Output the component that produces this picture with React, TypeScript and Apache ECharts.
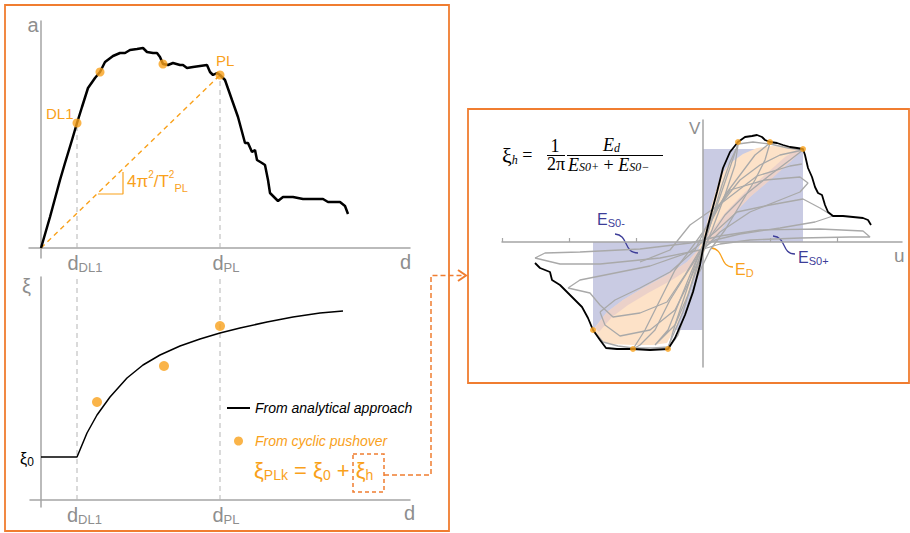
import React, { useEffect, useRef } from "react";
import * as echarts from "echarts";

// ---------- Top-left: pushover curve (d, a) ----------
const pushoverCurve: [number, number][] = [
  [0, 0], [9, 31], [19, 68], [24, 85], [31, 108], [36, 125], [41, 141], [47, 160], [54, 170], [59, 176],
  [64, 186], [72, 192], [79, 195], [84, 195], [89, 198], [96, 199], [102, 200], [106, 196], [112, 195],
  [116, 195], [119, 191], [122, 184], [127, 183], [132, 185], [139, 183], [142, 183], [146, 180], [152, 181],
  [159, 182], [166, 183], [169, 176], [172, 173], [176, 175], [179, 173], [184, 168], [191, 148], [197, 131],
  [204, 105], [207, 105], [211, 96], [214, 98], [216, 88], [221, 85], [224, 83], [227, 68], [229, 55],
  [232, 52], [237, 47], [242, 51], [252, 51], [262, 49], [282, 49], [287, 46], [299, 46], [304, 42], [307, 34],
];
// DL1, two intermediate, PL
const pushoverPoints: [number, number][] = [[36, 125], [59, 176], [122, 184], [179, 173]];
const slopeTriangle: [number, number][] = [[57, 54], [82, 54], [82, 76]];

// ---------- Bottom-left: damping vs displacement ----------
const dampingCurve: [number, number][] = [
  [0, 43], [36, 43], [46, 67], [56, 85], [69, 103], [86, 122], [102, 135], [119, 145], [139, 154],
  [159, 161], [179, 167], [199, 172], [226, 178], [252, 183], [279, 187], [302, 189],
];
const cyclicDamping: [number, number][] = [[56, 98], [123, 134], [179, 174]];

// ---------- Right: hysteresis (u, V) ----------
const envelope: [number, number][] = [
  [-168, -21], [-163, -26], [-153, -30], [-151, -38], [-143, -43], [-133, -53], [-121, -65], [-115, -76],
  [-110, -88], [-103, -98], [-97, -106], [-86, -107], [-70, -107], [-53, -108], [-35, -107], [-28, -96],
  [-18, -73], [-10, -50], [-3, -23], [2, 4], [7, 24], [14, 50], [20, 74], [27, 90], [35, 100], [42, 105],
  [49, 106], [54, 107], [59, 105], [62, 102], [67, 100], [74, 99], [80, 97], [87, 95], [94, 94], [100, 93],
  [102, 87], [105, 74], [109, 65], [112, 55], [115, 49], [119, 47], [122, 37], [125, 30], [130, 26],
  [140, 26], [150, 25], [160, 24], [165, 22], [168, 17],
];
const hystPoints: [number, number][] = [[-110, -88], [-70, -107], [-35, -107], [35, 100], [67, 100], [100, 93]];

const cycle1: [number, number][] = [[-168, -16], [-158, -11], [-123, -10], [-63, -7], [-13, -1], [17, 6], [57, 12], [117, 13], [160, 11], [167, 5], [147, 5], [97, 4], [47, 2], [17, -2], [-3, -8], [-43, -16], [-103, -22], [-143, -22], [-168, -16]];
const cycle2: [number, number][] = [[-135, -46], [-123, -38], [-93, -32], [-53, -24], [-13, -10], [12, 10], [34, 30], [67, 37], [100, 43], [117, 34], [130, 26], [112, 20], [77, 14], [37, 8], [12, 2], [-3, -8], [-18, -33], [-36, -60], [-63, -71], [-90, -75], [-103, -63], [-113, -51], [-135, -46]];
const cycle3: [number, number][] = [[-103, -70], [-88, -58], [-63, -46], [-33, -30], [-8, -8], [9, 27], [27, 52], [62, 62], [97, 65], [105, 59], [97, 50], [77, 42], [47, 30], [17, 10], [0, -8], [-13, -38], [-28, -68], [-53, -88], [-83, -94], [-98, -83], [-103, -70]];
const cycle4: [number, number][] = [[-70, -107], [-58, -88], [-43, -58], [-28, -28], [-13, -8], [0, 10], [17, 37], [37, 62], [57, 77], [77, 87], [100, 92], [87, 82], [67, 67], [42, 47], [22, 27], [5, 2], [-13, -26], [-33, -58], [-48, -88], [-63, -103], [-70, -107]];
const cycle5: [number, number][] = [[-35, -107], [-28, -83], [-18, -53], [-8, -23], [0, -3], [9, 22], [22, 47], [37, 67], [52, 87], [67, 99], [62, 82], [52, 62], [37, 37], [22, 12], [7, -8], [-5, -33], [-15, -63], [-25, -93], [-35, -107]];
const cycle6: [number, number][] = [[-48, -103], [-35, -88], [-23, -58], [-11, -28], [0, -3], [10, 27], [19, 57], [27, 80], [35, 97], [32, 77], [22, 47], [9, 12], [-3, -18], [-15, -53], [-28, -83], [-48, -103]];
const cycle7: [number, number][] = [[-63, -20], [-33, -8], [-13, 17], [20, 40], [54, 66], [87, 76], [99, 78]];
const cycle8: [number, number][] = [[-110, -88], [-100, -100], [-85, -104], [-70, -106], [-50, -106], [-35, -105], [-20, -70], [-8, -30], [0, -5], [10, 25], [22, 60], [35, 98], [50, 100], [67, 98], [85, 94], [100, 92]];

// dissipated energy loop (E_D) and blended edges
const dissipatedLoop: [number, number][] = [
  [-110, -88], [-96, -70], [-80, -58], [-60, -46], [-36, -33], [-16, -20], [-5, -8], [0, 4], [8, 35], [17, 65],
  [26, 78], [40, 88], [54, 94], [69, 96], [87, 95], [100, 93],
  [97, 90], [87, 80], [67, 62], [47, 45], [27, 24], [14, 7], [4, -3], [-6, -30], [-16, -56], [-26, -83],
  [-36, -101], [-50, -103], [-70, -103], [-93, -102], [-103, -98],
];
const loopEdgeUpper: [number, number][] = [[97, 90], [87, 80], [67, 62], [47, 45], [27, 24], [14, 7], [4, -3], [-1, 2], [9, 12], [22, 29], [42, 50], [62, 67], [82, 85], [95, 93]];
const loopEdgeLower: [number, number][] = [[-108, -86], [-96, -70], [-80, -58], [-60, -46], [-36, -33], [-16, -20], [-5, -8], [1, -12], [-11, -25], [-31, -38], [-55, -51], [-75, -63], [-91, -75], [-104, -90]];

const hystTicks = [-201, -134, -67, 67, 134];

const ORANGE = "#f9a11b";
const FRAME = "#f07d30";
const BLUE = "#3d3d98";
const AXIS = "#a5a5a5";
const LABEL = "#8e8e8e";
const GRAYLINE = "#a9a9a9";
const SANS = "Liberation Sans, Arial, sans-serif";
const SERIF = "Liberation Serif, Times New Roman, serif";

type Part = { t: string; size: number; dy?: number; italic?: boolean; family?: string; color?: string };

function rt(x: number, y: number, parts: Part[], opt: { color: string; family?: string; L?: number; align?: string }) {
  const maxSize = Math.max(...parts.map((p) => p.size));
  const L = opt.L ?? maxSize + 2;
  const rich: any = {};
  let text = "";
  parts.forEach((p, i) => {
    const dy = p.dy || 0;
    const key = "p" + i;
    rich[key] = {
      fontSize: p.size,
      fontFamily: p.family || opt.family || SANS,
      fontStyle: p.italic ? "italic" : "normal",
      fill: p.color || opt.color,
      lineHeight: dy === 0 ? L : Math.max(1, L - 2 * Math.abs(dy)),
      verticalAlign: dy === 0 ? "middle" : dy > 0 ? "bottom" : "top",
    };
    text += `{${key}|${p.t}}`;
  });
  return {
    type: "text",
    x,
    y,
    silent: true,
    z: 100,
    style: { text, rich, align: opt.align || "left", verticalAlign: "middle" },
  };
}

function sub(x: number, y: number, main: string, s: string, color: string, mainSize = 20, subSize = 13, dy = 6) {
  return rt(x, y, [{ t: main, size: mainSize }, { t: s, size: subSize, dy }], { color, L: 22 });
}

const axisBase = (extra: any) => ({
  type: "value",
  axisLine: { show: true, onZero: true, lineStyle: { color: AXIS, width: 1.5 } },
  axisTick: { show: false },
  axisLabel: { show: false },
  splitLine: { show: false },
  ...extra,
});

function poly(pts: [number, number][], fill: string, opacity = 1) {
  return {
    type: "custom",
    xAxisIndex: 2,
    yAxisIndex: 2,
    data: [[0, 0]],
    silent: true,
    z: -1,
    renderItem: (_p: any, api: any) => ({
      type: "polygon",
      shape: { points: pts.map((p) => api.coord(p)) },
      style: { fill, opacity },
    }),
  };
}

export default function App() {
  const ref = useRef<HTMLDivElement>(null);
  useEffect(() => {
    if (!ref.current) return;
    const chart = echarts.init(ref.current, null, { renderer: "svg" });
    const pl = pushoverPoints[3];
    const dl1 = pushoverPoints[0];
    const negPeak = hystPoints[0];
    const posPeak = hystPoints[5];
    const esMinus: [number, number][] = [[negPeak[0], 0], [0, 0], [0, negPeak[1]], [negPeak[0], negPeak[1]]];
    const esPlus: [number, number][] = [[0, 0], [posPeak[0], 0], [posPeak[0], posPeak[1]], [0, posPeak[1]]];
    const dampTop = 223;

    const gray = (d: [number, number][]) => ({
      type: "line", xAxisIndex: 2, yAxisIndex: 2, data: d, symbol: "none", silent: true, z: 2,
      lineStyle: { color: GRAYLINE, width: 1.3 },
    });
    const dashed = (d: [number, number][], axis: number, color: string, w = 1) => ({
      type: "line", xAxisIndex: axis, yAxisIndex: axis, data: d, symbol: "none", silent: true, z: 1,
      lineStyle: { color, width: w, type: [5, 4] },
    });

    const option: any = {
      animation: false,
      grid: [
        { left: 29, top: 21, width: 381, height: 237, containLabel: false, outerBoundsMode: "none" },
        { left: 30, top: 277, width: 380, height: 230, containLabel: false, outerBoundsMode: "none" },
        { left: 502, top: 120, width: 400, height: 247, containLabel: false, outerBoundsMode: "none" },
      ],
      xAxis: [
        axisBase({ gridIndex: 0, min: -12, max: 369 }),
        axisBase({ gridIndex: 1, min: -11, max: 369 }),
        axisBase({
          gridIndex: 2, min: -201, max: 199, interval: 67,
          axisTick: { show: true, inside: true, length: 4, customValues: hystTicks, lineStyle: { color: AXIS, width: 1.2 } },
        }),
      ],
      yAxis: [
        axisBase({ gridIndex: 0, min: -10, max: 227 }),
        axisBase({ gridIndex: 1, min: -7, max: dampTop }),
        axisBase({ gridIndex: 2, min: -125, max: 122 }),
      ],
      legend: {
        orient: "vertical", left: 226, top: 401, padding: 0, itemWidth: 23, itemHeight: 9, itemGap: 19,
        selectedMode: false,
        textStyle: { fontFamily: SANS, fontStyle: "italic", fontSize: 14, color: "#000" },
        data: [
          { name: "From analytical approach", itemStyle: { opacity: 0 } },
          { name: "From cyclic pushover", textStyle: { color: ORANGE } },
        ],
      },
      series: [
        // top-left
        dashed([[dl1[0], 0], dl1], 0, "#b5b5b5"),
        dashed([[pl[0], 0], pl], 0, "#b5b5b5"),
        dashed([[0, 0], pl], 0, ORANGE, 1.4),
        {
          type: "line", xAxisIndex: 0, yAxisIndex: 0, data: slopeTriangle, symbol: "none", silent: true,
          lineStyle: { color: ORANGE, width: 1.2 },
        },
        {
          type: "line", xAxisIndex: 0, yAxisIndex: 0, data: pushoverCurve, symbol: "none", silent: true, z: 3,
          lineStyle: { color: "#000", width: 2.5 },
        },
        {
          type: "scatter", xAxisIndex: 0, yAxisIndex: 0, data: pushoverPoints, symbolSize: 9, silent: true, z: 4,
          itemStyle: { color: ORANGE },
        },
        // bottom-left
        dashed([[dl1[0], 0], [dl1[0], dampTop]], 1, "#b5b5b5"),
        dashed([[pl[0], 0], [pl[0], dampTop]], 1, "#b5b5b5"),
        {
          name: "From analytical approach",
          type: "line", xAxisIndex: 1, yAxisIndex: 1, data: dampingCurve, symbol: "none", silent: true, z: 3,
          itemStyle: { color: "#000" },
          lineStyle: { color: "#000", width: 1.5 },
        },
        {
          name: "From cyclic pushover",
          type: "scatter", xAxisIndex: 1, yAxisIndex: 1, data: cyclicDamping, symbolSize: 10, silent: true, z: 4,
          itemStyle: { color: ORANGE },
        },
        // right
        poly(esMinus, "#c9cbe3"),
        poly(esPlus, "#c9cbe3"),
        poly(dissipatedLoop, "#fde2c8"),
        poly(loopEdgeUpper, "#dcc3cb", 0.55),
        poly(loopEdgeLower, "#dcc3cb", 0.55),
        gray(cycle1), gray(cycle2), gray(cycle3), gray(cycle4),
        gray(cycle5), gray(cycle6), gray(cycle7), gray(cycle8),
        {
          type: "line", xAxisIndex: 2, yAxisIndex: 2, data: envelope, symbol: "none", silent: true, z: 3,
          lineStyle: { color: "#000", width: 1.8 },
        },
        {
          type: "scatter", xAxisIndex: 2, yAxisIndex: 2, data: hystPoints, symbolSize: 6, silent: true, z: 4,
          itemStyle: { color: ORANGE },
        },
      ],
      graphic: {
        elements: [
          // frames
          { type: "rect", silent: true, shape: { x: 5, y: 5, width: 444, height: 526 }, style: { fill: "none", stroke: FRAME, lineWidth: 1.8 } },
          { type: "rect", silent: true, shape: { x: 468, y: 109, width: 441, height: 274 }, style: { fill: "none", stroke: FRAME, lineWidth: 1.8 } },
          // connector
          { type: "rect", silent: true, shape: { x: 353, y: 454, width: 31, height: 38 }, style: { fill: "none", stroke: FRAME, lineWidth: 1.5, lineDash: [4, 3] } },
          { type: "polyline", silent: true, shape: { points: [[384, 475], [431, 475], [431, 275.5], [462, 275.5]] }, style: { fill: "none", stroke: FRAME, lineWidth: 1.5, lineDash: [5, 3] } },
          { type: "polyline", silent: true, shape: { points: [[458, 270], [466, 275.5], [458, 281]] }, style: { fill: "none", stroke: FRAME, lineWidth: 2 } },
          // leaders
          { type: "bezierCurve", silent: true, shape: { x1: 615, y1: 234, cpx1: 629, cpy1: 235, cpx2: 623, cpy2: 253, x2: 638, y2: 253 }, style: { fill: "none", stroke: BLUE, lineWidth: 1.3 } },
          { type: "bezierCurve", silent: true, shape: { x1: 773, y1: 236, cpx1: 787, cpy1: 237, cpx2: 781, cpy2: 254, x2: 795, y2: 254 }, style: { fill: "none", stroke: BLUE, lineWidth: 1.3 } },
          { type: "bezierCurve", silent: true, shape: { x1: 711, y1: 248, cpx1: 725, cpy1: 249, cpx2: 719, cpy2: 267, x2: 733, y2: 267 }, style: { fill: "none", stroke: ORANGE, lineWidth: 1.3 } },
          // formula bars
          { type: "line", silent: true, shape: { x1: 547, y1: 155.5, x2: 565, y2: 155.5 }, style: { stroke: "#000", lineWidth: 1 } },
          { type: "line", silent: true, shape: { x1: 567, y1: 155.5, x2: 663, y2: 155.5 }, style: { stroke: "#000", lineWidth: 1 } },

          // top-left texts
          rt(27.5, 24.6, [{ t: "a", size: 20 }], { color: LABEL }),
          sub(67.5, 263, "d", "DL1", LABEL),
          sub(212.5, 263, "d", "PL", LABEL),
          rt(400, 262, [{ t: "d", size: 20 }], { color: LABEL }),
          rt(46, 113, [{ t: "DL1", size: 15 }], { color: ORANGE }),
          rt(216, 60.5, [{ t: "PL", size: 15 }], { color: ORANGE }),
          rt(127, 181.4, [
            { t: "4π", size: 17 }, { t: "2", size: 10, dy: -5 }, { t: "/T", size: 17 },
            { t: "2", size: 10, dy: -5 }, { t: "PL", size: 11, dy: 7 },
          ], { color: ORANGE, L: 24 }),
          // bottom-left texts
          rt(22, 286, [{ t: "ξ", size: 20 }], { color: LABEL }),
          rt(20, 458.5, [{ t: "ξ", size: 16 }, { t: "0", size: 12, dy: 4.2 }], { color: "#000", L: 18 }),
          sub(67, 515, "d", "DL1", LABEL),
          sub(212.5, 515, "d", "PL", LABEL),
          rt(404, 513, [{ t: "d", size: 20 }], { color: LABEL }),
          rt(254, 470.4, [
            { t: "ξ", size: 22 }, { t: "PLk", size: 14, dy: 6.7 }, { t: " = ξ", size: 22 },
            { t: "0", size: 14, dy: 6.7 }, { t: " + ξ", size: 22 }, { t: "h", size: 14, dy: 6.7 },
          ], { color: ORANGE, L: 24 }),
          // right texts
          rt(689, 128, [{ t: "V", size: 17 }], { color: LABEL }),
          rt(894, 255.4, [{ t: "u", size: 19 }], { color: LABEL }),
          rt(597, 219.4, [{ t: "E", size: 16 }, { t: "S0-", size: 11, dy: 6.5 }], { color: BLUE, L: 18 }),
          rt(798, 257.5, [{ t: "E", size: 16 }, { t: "S0+", size: 11, dy: 6 }], { color: BLUE, L: 18 }),
          rt(735, 269.5, [{ t: "E", size: 16 }, { t: "D", size: 11, dy: 6.5 }], { color: ORANGE, L: 18 }),
          // damping formula (serif)
          rt(502, 155, [
            { t: "ξ", size: 22 }, { t: "h", size: 12, dy: 4.5, italic: true }, { t: " =", size: 18 },
          ], { color: "#000", family: SERIF, L: 22 }),
          rt(555, 145.6, [{ t: "1", size: 18 }], { color: "#000", family: SERIF, align: "center", L: 18 }),
          rt(556, 163.9, [{ t: "2π", size: 18 }], { color: "#000", family: SERIF, align: "center", L: 16 }),
          rt(603, 145, [{ t: "E", size: 18, italic: true }, { t: "d", size: 12, dy: 4, italic: true }], { color: "#000", family: SERIF, L: 18 }),
          rt(568, 164.5, [
            { t: "E", size: 18, italic: true }, { t: "S0+", size: 12, dy: 7, italic: true }, { t: " + ", size: 18 },
            { t: "E", size: 18, italic: true }, { t: "S0−", size: 12, dy: 7, italic: true },
          ], { color: "#000", family: SERIF, L: 16 }),
        ],
      },
    };
    chart.setOption(option);
    return () => chart.dispose();
  }, []);
  return <div ref={ref} style={{ position: "absolute", left: 0, top: 0, width: 910, height: 533 }} />;
}
